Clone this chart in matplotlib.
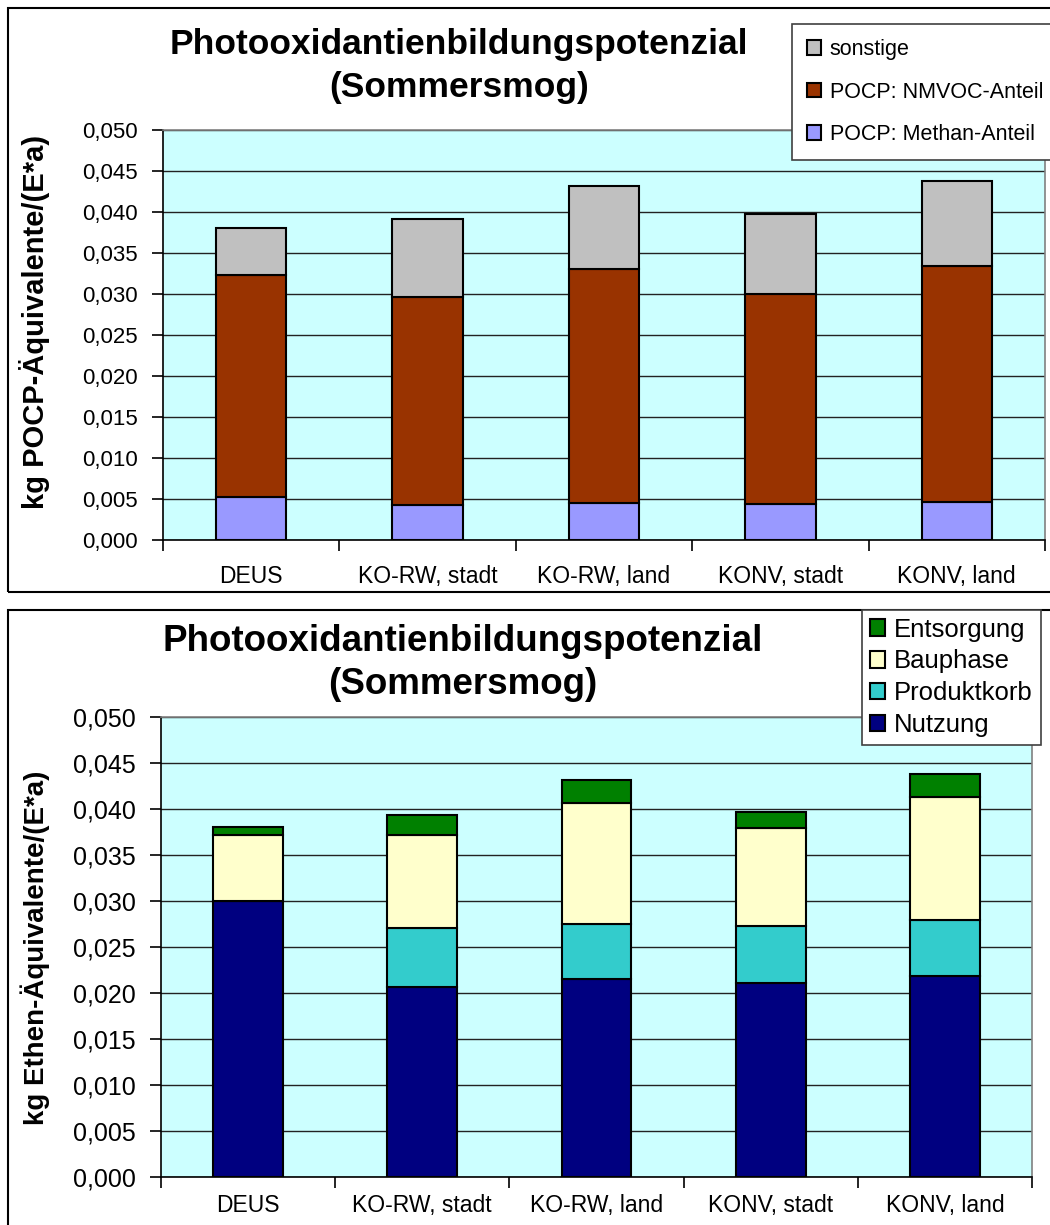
import matplotlib
matplotlib.use("Agg")
import matplotlib.pyplot as plt
from matplotlib.patches import Rectangle
from matplotlib.ticker import FuncFormatter, MultipleLocator

plt.rcParams["font.family"] = ["Liberation Sans", "DejaVu Sans"]

W, H = 1050, 1225

categories = ["DEUS", "KO-RW, stadt", "KO-RW, land", "KONV, stadt", "KONV, land"]

# upper chart: POCP shares (kg POCP-equivalents per resident and year)
methan = [0.0052, 0.0043, 0.0045, 0.0044, 0.0046]
nmvoc = [0.0271, 0.0253, 0.0285, 0.0256, 0.0288]
sonstige = [0.0058, 0.0096, 0.0102, 0.0098, 0.0104]

# lower chart: life-cycle phases (kg ethene-equivalents per resident and year)
nutzung = [0.0300, 0.0206, 0.0215, 0.0211, 0.0219]
produktkorb = [0.0000, 0.0065, 0.0060, 0.0062, 0.0060]
bauphase = [0.0072, 0.0101, 0.0132, 0.0106, 0.0134]
entsorgung = [0.0008, 0.0021, 0.0025, 0.0018, 0.0025]

TITLE = "Photooxidantienbildungspotenzial\n(Sommersmog)"
BG = "#CCFFFF"


def px_box(left, top, right, bottom):
    return [left / W, 1 - bottom / H, (right - left) / W, (bottom - top) / H]


def comma_fmt(v, pos):
    return f"{v:.3f}".replace(".", ",")


def setup_axes(ax, tick_size, cat_size, cat_pad):
    ax.set_facecolor(BG)
    ax.set_xlim(-0.5, len(categories) - 0.5)
    ax.set_ylim(0, 0.05)
    ax.yaxis.set_major_locator(MultipleLocator(0.005))
    ax.yaxis.set_major_formatter(FuncFormatter(comma_fmt))
    ax.grid(axis="y", color="#222222", linewidth=1.0)
    ax.set_axisbelow(True)
    for side in ("top", "right"):
        ax.spines[side].set_color("#808080")
        ax.spines[side].set_linewidth(1.2)
    for side in ("left", "bottom"):
        ax.spines[side].set_color("black")
        ax.spines[side].set_linewidth(1.2)
    ax.tick_params(axis="y", direction="out", length=8, width=1.2,
                   labelsize=tick_size, pad=10)
    # category separators as ticks, labels centred between them
    ax.set_xticks([i + 0.5 for i in range(-1, len(categories))])
    ax.set_xticklabels([])
    ax.set_xticks(range(len(categories)), minor=True)
    ax.set_xticklabels(categories, minor=True, fontsize=cat_size)
    ax.tick_params(axis="x", which="major", direction="out", length=8, width=1.2)
    ax.tick_params(axis="x", which="minor", length=0, pad=cat_pad)


def stacked(ax, series, colors):
    bottom = [0.0] * len(categories)
    bars = []
    for vals, col in zip(series, colors):
        b = ax.bar(range(len(categories)), vals, width=0.40, bottom=bottom,
                   color=col, edgecolor="black", linewidth=1.5, zorder=3)
        bars.append(b)
        bottom = [a + v for a, v in zip(bottom, vals)]
    return bars


fig = plt.figure(figsize=(W / 100, H / 100), dpi=100)

# panel frames
fig.patches.append(Rectangle((8 / W, 1 - 592 / H), 1.1, (592 - 8) / H,
                             transform=fig.transFigure, fill=False,
                             edgecolor="black", linewidth=1.5))
fig.patches.append(Rectangle((8 / W, 1 - 1240 / H), 1.1, (1240 - 610) / H,
                             transform=fig.transFigure, fill=False,
                             edgecolor="black", linewidth=1.5))

# upper chart
ax1 = fig.add_axes(px_box(163, 130, 1045, 540))
setup_axes(ax1, 16, 16.5, 18)
b1 = stacked(ax1, [methan, nmvoc, sonstige], ["#9999FF", "#993300", "#C0C0C0"])
fig.text(459 / W, 1 - 28 / H, TITLE, ha="center", va="top", fontsize=25.5,
         fontweight="bold", linespacing=1.4)
fig.text(35 / W, 1 - 322 / H, "kg POCP-Äquivalente/(E*a)", rotation=90,
         ha="center", va="center", fontsize=21, fontweight="bold")
leg1 = fig.legend([b1[2], b1[1], b1[0]],
                  ["sonstige", "POCP: NMVOC-Anteil", "POCP: Methan-Anteil"],
                  loc="upper left", bbox_to_anchor=(792 / W, 1 - 24 / H),
                  fontsize=15.5, frameon=True, fancybox=False, shadow=False,
                  edgecolor="#404040", framealpha=1, borderaxespad=0,
                  borderpad=0.7, labelspacing=1.0, handlelength=0.65,
                  handleheight=0.65, handletextpad=0.4)
leg1.get_frame().set_linewidth(1.2)

# lower chart
ax2 = fig.add_axes(px_box(161, 717, 1032, 1177))
setup_axes(ax2, 18, 16.5, 12)
b2 = stacked(ax2, [nutzung, produktkorb, bauphase, entsorgung],
             ["#000080", "#33CCCC", "#FFFFCC", "#008000"])
fig.text(463 / W, 1 - 624 / H, TITLE, ha="center", va="top", fontsize=26.5,
         fontweight="bold", linespacing=1.3)
fig.text(35 / W, 1 - 948 / H, "kg Ethen-Äquivalente/(E*a)", rotation=90,
         ha="center", va="center", fontsize=20, fontweight="bold")
leg2 = fig.legend([b2[3], b2[2], b2[1], b2[0]],
                  ["Entsorgung", "Bauphase", "Produktkorb", "Nutzung"],
                  loc="upper left", bbox_to_anchor=(862 / W, 1 - 610 / H),
                  fontsize=18.5, frameon=True, fancybox=False, shadow=False,
                  edgecolor="#404040", framealpha=1, borderaxespad=0,
                  borderpad=0.3, labelspacing=0.3, handlelength=0.6,
                  handleheight=0.6, handletextpad=0.35)
leg2.get_frame().set_linewidth(1.2)

fig.savefig("out.png", dpi=100, facecolor="white")
